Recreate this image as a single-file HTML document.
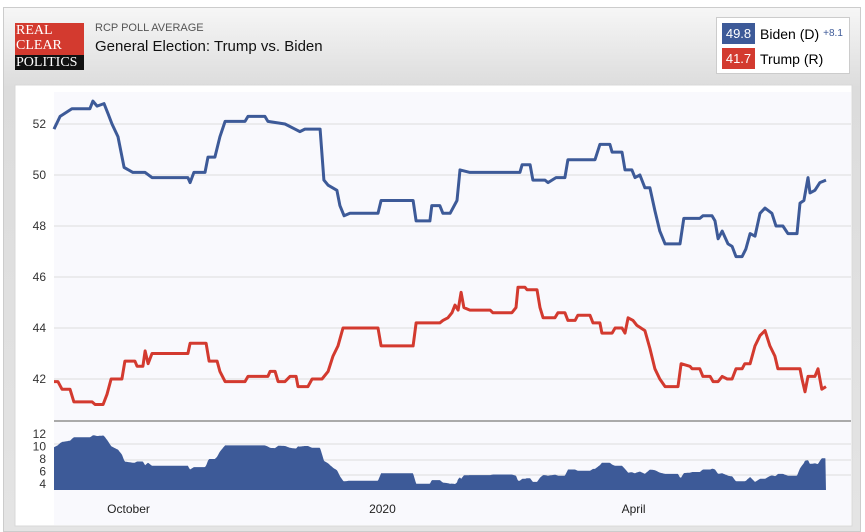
<!DOCTYPE html>
<html><head><meta charset="utf-8"><style>
body{margin:0;width:865px;height:532px;overflow:hidden;font-family:"Liberation Sans",sans-serif;background:#fff}
#panel{position:absolute;left:3px;top:7px;width:858px;height:525px;border:1px solid #ccc;background:linear-gradient(#f6f6f6,#dcdcdc 80px,#e4e4e4);box-sizing:border-box}
#logo{position:absolute;left:15px;top:23px;width:69px;height:47px;font-family:"Liberation Serif",serif;font-size:14px;line-height:15px;color:#fff}
#sub{position:absolute;left:95px;top:22px;font-size:11px;color:#555}
#title{position:absolute;left:95px;top:38px;font-size:15px;color:#111}
#legend{position:absolute;left:716px;top:17px;width:134px;height:57px;background:#fff;border:1px solid #ccc;box-sizing:border-box}
.lg{position:absolute;left:5px;height:21px;display:flex;align-items:center;font-size:14px}
.sw{width:33px;height:21px;color:#fff;display:flex;align-items:center;justify-content:center;margin-right:5px;font-size:13px}
</style></head><body>
<div id="panel"></div>
<div id="logo"><div style="background:#d33a2f;height:32px;padding-left:1px">REAL<br>CLEAR</div><div style="background:#111;height:15px;padding-left:1px">POLITICS</div></div>
<div id="sub">RCP POLL AVERAGE</div>
<div id="title">General Election: Trump vs. Biden</div>
<div id="legend">
<div class="lg" style="top:5px"><div class="sw" style="background:#3d5a98">49.8</div>Biden (D)<span style="font-size:10px;color:#3d5a98;margin-left:4px">+8.1</span></div>
<div class="lg" style="top:30px"><div class="sw" style="background:#d33a2f">41.7</div>Trump (R)</div>
</div>
<svg id="chart" width="865" height="532" style="position:absolute;left:0;top:0"></svg>
<script>
const bidenDays=[0,2.2,6.5,13,14.1,15.6,18.1,19.6,21,23.2,25.4,28.6,33,35.5,48.5,49.3,50.7,54.7,55.8,58.3,60.1,62,69.2,70.3,76.4,77.5,83.7,87.3,89.1,90.9,96.4,97.8,99.3,102.5,103.6,105.1,107.2,117.4,118.5,130.1,131.2,136.2,136.9,139.8,140.9,143.5,146,147.1,150.7,168.8,169.6,172.5,173.5,177.9,179,181.9,185.1,186.2,196,197.8,201.4,202.2,205.8,206.9,209.4,210.5,212.3,214.1,215.9,217.7,219.5,221.4,226.8,228.2,234,235.1,238.4,239.5,240.6,242.1,244.2,245.7,247.1,249.3,250.7,252.2,254,255.8,257.6,260.1,261.6,264.1,265.9,269.2,270.3,271.7,273.2,273.9,275.7,277.5,279.7];
const bidenVals=[51.8,52.3,52.6,52.6,52.9,52.7,52.8,52.4,52.0,51.5,50.3,50.1,50.1,49.9,49.9,49.7,50.1,50.1,50.7,50.7,51.5,52.1,52.1,52.3,52.3,52.1,52.0,51.8,51.7,51.8,51.8,49.8,49.6,49.4,48.8,48.4,48.5,48.5,49.0,49.0,48.2,48.2,48.8,48.8,48.5,48.5,49.0,50.2,50.1,50.1,50.4,50.4,49.8,49.8,49.7,49.9,49.9,50.6,50.6,51.2,51.2,50.9,50.9,50.2,50.2,49.9,50.0,49.5,49.5,48.6,47.8,47.3,47.3,48.3,48.3,48.4,48.4,48.2,47.5,47.8,47.3,47.2,46.8,46.8,47.1,47.7,47.6,48.5,48.7,48.5,48.0,48.0,47.7,47.7,48.9,49.0,49.9,49.3,49.4,49.7,49.8];
const trumpDays=[0,1.4,2.9,5.8,7.2,13.8,14.9,17.8,19.2,20.7,24.6,25.7,29.3,30.1,32.2,33,34.1,35.5,48.5,49.3,55.1,56.2,59.1,60.1,62,69.2,70.3,77.5,78.3,80.1,81.2,83.7,85.5,87.7,88.4,92,93.5,97.1,99.3,101.1,102.9,104.7,117.4,118.5,130.1,131.2,139.8,140.9,142.7,144.2,145.3,146.4,147.5,148.5,150.7,158,159,165.9,167.4,168.1,170.6,171.4,175,176.1,177.2,181.5,182.6,185.1,186.2,188.8,189.8,194.2,195.3,197.8,198.5,202.2,203.3,205.8,206.9,208,209.8,211.2,214.1,215.9,217.7,219.5,221.4,226.1,227.2,230.4,231.2,234,235.1,237.7,238.8,240.6,242.1,243.9,245.7,247.1,249.3,250.3,252.2,254,255.8,257.6,259.4,261.2,262.3,270.3,271,272.1,273.2,275.7,276.8,278.2,279.7];
const trumpVals=[41.9,41.9,41.6,41.6,41.1,41.1,41.0,41.0,41.4,42.0,42.0,42.7,42.7,42.5,42.5,43.1,42.6,43.0,43.0,43.4,43.4,42.7,42.7,42.3,41.9,41.9,42.1,42.1,42.3,42.3,41.9,41.9,42.1,42.1,41.7,41.7,42.0,42.0,42.3,42.9,43.3,44.0,44.0,43.3,43.3,44.2,44.2,44.3,44.4,44.6,44.9,44.7,45.4,44.8,44.7,44.7,44.6,44.6,44.8,45.6,45.6,45.5,45.5,44.8,44.4,44.4,44.6,44.6,44.3,44.3,44.5,44.5,44.2,44.2,43.8,43.8,44.0,44.0,43.8,44.4,44.3,44.1,43.9,43.2,42.4,42.0,41.7,41.7,42.6,42.5,42.4,42.4,42.1,42.1,41.9,41.9,42.1,42.0,42.0,42.4,42.4,42.6,42.6,43.3,43.7,43.9,43.3,42.9,42.4,42.4,42.0,41.5,42.1,42.1,42.4,41.6,41.7];
const mainTicks=[42,44,46,48,50,52];
const spreadTicks=[4,6,8,10,12];
const monthLabels=["October","2020","April"];
const monthDays=[27,119,210];

const NS="http://www.w3.org/2000/svg",svg=document.getElementById('chart');
const X=d=>54+d*2.76, Y=v=>124+(52-v)*25.5, YS=v=>490-(v-3)*6.2;
function mk(t,a,p){const e=document.createElementNS(NS,t);for(const k in a)e.setAttribute(k,a[k]);(p||svg).appendChild(e);return e;}
function interp(ds,vs,d){if(d<=ds[0])return vs[0];for(let i=1;i<ds.length;i++){if(d<=ds[i]){const t=(d-ds[i-1])/(ds[i]-ds[i-1]);return vs[i-1]+t*(vs[i]-vs[i-1]);}}return vs[vs.length-1];}
let e=mk('rect',{x:15,y:85,width:837,height:441,fill:'#fff',stroke:'#d8d8d8'});

e=mk('rect',{x:54,y:92,width:797,height:433,fill:'#f9f9fd'});

mainTicks.forEach(t=>{
 const g=mk('line',{x1:54,x2:851,y1:Y(t),y2:Y(t),stroke:'#ddd','stroke-width':1});
 
 const l=mk('text',{x:46,y:Y(t)+4,'text-anchor':'end','font-size':12,fill:'#333'});l.textContent=t;
 
});
e=mk('line',{x1:54,x2:851,y1:421,y2:421,stroke:'#aaa','stroke-width':2});

[444,460,475].forEach(y=>{const g=mk('line',{x1:54,x2:851,y1:y,y2:y,stroke:'#ddd'});
 });
spreadTicks.forEach(t=>{const l=mk('text',{x:46,y:YS(t)+4,'text-anchor':'end','font-size':12,fill:'#333'});l.textContent=t;
 });
// spread area
let pts=[],end=bidenDays[bidenDays.length-1];
for(let d=0;d<=end;d+=0.25){pts.push(X(d).toFixed(1)+','+YS(interp(bidenDays,bidenVals,d)-interp(trumpDays,trumpVals,d)).toFixed(1));}
e=mk('polygon',{points:X(0)+','+YS(3)+' '+pts.join(' ')+' '+X(end)+','+YS(3),fill:'#3d5a98'});

function line(ds,vs,c,n){const el=mk('polyline',{points:ds.map((d,i)=>X(d).toFixed(1)+','+Y(vs[i]).toFixed(1)).join(' '),fill:'none',stroke:c,'stroke-width':3,'stroke-linejoin':'round'});
 }
line(bidenDays,bidenVals,'#3d5a98','biden-line');
line(trumpDays,trumpVals,'#d33a2f','trump-line');
monthLabels.forEach((m,i)=>{const l=mk('text',{x:X(monthDays[i]),y:513,'text-anchor':'middle','font-size':12,fill:'#222'});l.textContent=m;
 });
</script>
</body></html>
